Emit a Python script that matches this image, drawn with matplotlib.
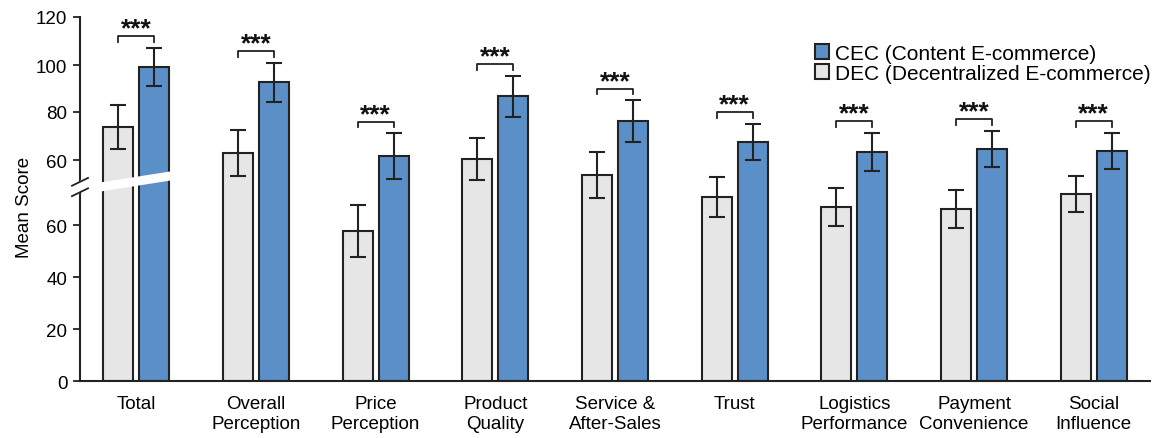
import numpy as np
import matplotlib

matplotlib.use("Agg")
import matplotlib.pyplot as plt
from matplotlib.patches import Polygon

plt.rcParams["font.family"] = ["Liberation Sans", "DejaVu Sans"]

categories = ["Total", "Overall\nPerception", "Price\nPerception", "Product\nQuality",
              "Service &\nAfter-Sales", "Trust", "Logistics\nPerformance",
              "Payment\nConvenience", "Social\nInfluence"]

# bar heights as drawn on the (broken) axis, in axis units
dec_mean = [97.7, 87.7, 57.7, 85.4, 79.2, 70.8, 66.9, 66.2, 71.9]
dec_err = [8.3, 8.7, 10.0, 7.9, 8.7, 7.7, 7.3, 7.3, 6.9]
cec_mean = [120.8, 115.0, 86.5, 109.6, 100.0, 91.9, 88.1, 89.2, 88.5]
cec_err = [7.3, 7.5, 8.8, 7.9, 7.9, 7.0, 7.3, 7.0, 7.0]

# tick positions on the axis and the labels printed there (axis is broken at 60)
ytick_pos = [0, 20, 40, 60, 85, 103.5, 121.5, 140]
ytick_lab = ["0", "20", "40", "60", "60", "80", "100", "120"]

cec_color = "#5b8fc8"
dec_color = "#e6e6e6"
edge = "#222222"

fig = plt.figure(figsize=(11.54, 4.39), dpi=100)
ax = fig.add_axes([0.0693, 0.1298, 0.9272, 0.8292])

x = np.arange(len(categories))
w = 0.25
off = 0.15

ax.bar(x - off, dec_mean, w, yerr=dec_err, color=dec_color, edgecolor=edge, linewidth=1.5,
       error_kw=dict(elinewidth=1.5, capsize=6, capthick=1.5, ecolor=edge),
       label="DEC (Decentralized E-commerce)", zorder=2)
ax.bar(x + off, cec_mean, w, yerr=cec_err, color=cec_color, edgecolor=edge, linewidth=1.5,
       error_kw=dict(elinewidth=1.5, capsize=6, capthick=1.5, ecolor=edge),
       label="CEC (Content E-commerce)", zorder=2)

# significance brackets
for i in range(len(categories)):
    yb = cec_mean[i] + cec_err[i] + 4.5
    ax.plot([x[i] - off, x[i] - off, x[i] + off, x[i] + off],
            [yb - 2.2, yb, yb, yb - 2.2], color=edge, lw=1.3, zorder=3)
    ax.text(x[i], yb + 0.2, "***", ha="center", va="baseline", fontsize=19,
            fontweight="bold", color="#111111")

# white break band across the Total bars
x0, x1 = x[0] - off - w / 2 - 0.02, x[0] + off + w / 2 + 0.01
band = Polygon([[x0, 72.9], [x1, 77.1], [x1, 80.6], [x0, 76.4]], closed=True,
               facecolor="white", edgecolor="none", zorder=4)
ax.add_patch(band)

# axis break marks
tr = ax.get_yaxis_transform()
ax.plot([-0.002, 0.002], [73.3, 76.1], color="white", lw=4, transform=tr, clip_on=False, zorder=5)
for yc in [76.6, 72.6]:
    ax.plot([-0.0075, 0.0075], [yc - 1.5, yc + 1.5], color=edge, lw=1.3, transform=tr,
            clip_on=False, zorder=6)

ax.set_xlim(-0.47, len(categories) - 0.53)
ax.set_ylim(0, 140)
ax.set_yticks(ytick_pos)
ax.set_yticklabels(ytick_lab, fontsize=13.5)
ax.set_xticks(x)
ax.set_xticklabels(categories, fontsize=13.5, linespacing=1.2)
ax.tick_params(axis="x", length=0, pad=10)
ax.tick_params(axis="y", length=5, width=1.3, color=edge, pad=4)
ax.set_ylabel("Mean Score", fontsize=13.5)
ax.yaxis.set_label_coords(-0.0436, 0.48)

for s in ["top", "right"]:
    ax.spines[s].set_visible(False)
for s in ["left", "bottom"]:
    ax.spines[s].set_linewidth(1.5)
    ax.spines[s].set_color(edge)

handles, labels = ax.get_legend_handles_labels()
ax.legend(handles[::-1], labels[::-1], loc="upper left", bbox_to_anchor=(0.706, 0.898),
          bbox_transform=fig.transFigure, frameon=False, fontsize=15, handlelength=0.7,
          handleheight=0.7, handletextpad=0.25, borderpad=0, borderaxespad=0,
          labelspacing=0.05)

fig.savefig("out.png", dpi=100)
